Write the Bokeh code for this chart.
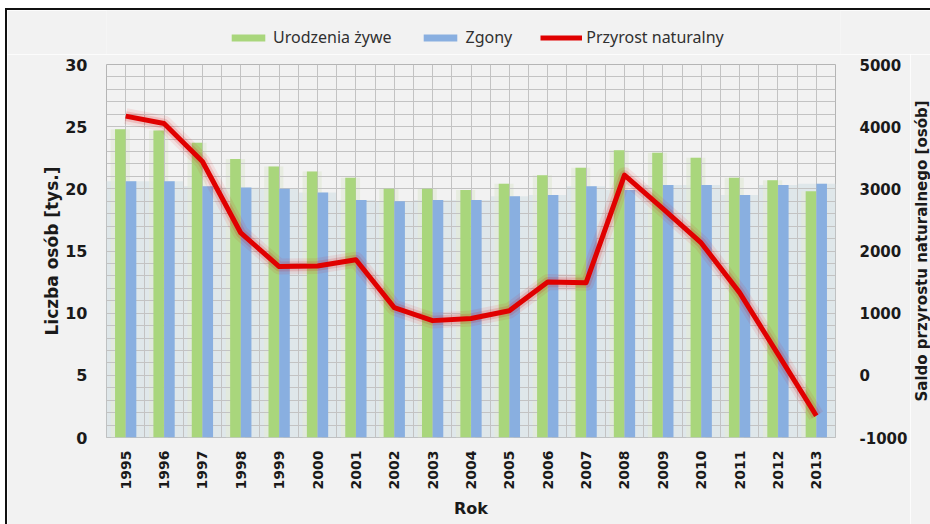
import math
from bokeh.plotting import figure
from bokeh.layouts import column, row
from bokeh.models import (Range1d, LinearAxis, FixedTicker, SingleIntervalTicker, Title,
                          Legend, LegendItem, ColumnDataSource, NumeralTickFormatter)
from bokeh.transform import dodge
from bokeh.embed import file_html
from bokeh.resources import INLINE

years = [1995, 1996, 1997, 1998, 1999, 2000, 2001, 2002, 2003, 2004,
         2005, 2006, 2007, 2008, 2009, 2010, 2011, 2012, 2013]
births = [24.8, 24.7, 23.7, 22.4, 21.8, 21.4, 20.9, 20.0, 20.0, 19.9,
          20.4, 21.1, 21.7, 23.1, 22.9, 22.5, 20.9, 20.7, 19.8]
deaths = [20.6, 20.6, 20.2, 20.1, 20.0, 19.7, 19.1, 19.0, 19.1, 19.1,
          19.4, 19.5, 20.2, 19.9, 20.3, 20.3, 19.5, 20.3, 20.4]
saldo = [4170, 4050, 3440, 2290, 1750, 1760, 1860, 1090, 880, 915,
         1040, 1500, 1490, 3220, 2680, 2130, 1330, 340, -650]

legend_labels = ["Urodzenia żywe", "Zgony", "Przyrost naturalny"]
left_ticks = [0, 5, 10, 15, 20, 25, 30]
right_ticks = [-1000, 0, 1000, 2000, 3000, 4000, 5000]
x_title = "Rok"
left_title = "Liczba osób [tys.]"
right_title = "Saldo przyrostu naturalnego [osób]"

src = ColumnDataSource(dict(year=years, births=births, deaths=deaths, saldo=saldo))

GREEN = "#a9d67c"
BLUE = "#89afe0"
RED = "#e00000"
BG = "#f2f2f2"
TXT = "#1a1a1a"

# ---------------- legend strip ----------------
lf = figure(width=923, height=44, output_backend="svg", toolbar_location=None,
            x_range=Range1d(0, 1), y_range=Range1d(0, 1),
            min_border_left=99, min_border_right=90, min_border_top=0, min_border_bottom=0,
            background_fill_color=BG, border_fill_color=BG, outline_line_color=None)
lf.axis.visible = False
lf.grid.visible = False
# hidden legend handles (only their legend swatches are drawn)
lg = lf.vbar(x="year", top="births", width=0.3, source=src, fill_color=GREEN,
             line_color=None, visible=False)
lb = lf.vbar(x="year", top="deaths", width=0.3, source=src, fill_color=BLUE,
             line_color=None, visible=False)
lr = lf.line(x="year", y="saldo", source=src, line_color=RED, line_width=5, visible=False)
legend = Legend(items=[LegendItem(label=legend_labels[0], renderers=[lg]),
                       LegendItem(label=legend_labels[1], renderers=[lb]),
                       LegendItem(label=legend_labels[2], renderers=[lr])],
                orientation="horizontal", location=(121, 6),
                glyph_width=42, glyph_height=9, label_standoff=4, spacing=28,
                label_height=20, inactive_fill_alpha=0,
                label_text_font="Noto Sans", label_text_font_size="16px",
                label_text_color="#303030", border_line_color=None,
                background_fill_alpha=0, padding=0, margin=0)
lf.add_layout(legend, "center")

# ---------------- main chart ----------------
p = figure(width=903, height=470, output_backend="svg", toolbar_location=None,
           x_range=Range1d(1994.5, 2013.5), y_range=Range1d(0, 30),
           min_border_left=99, min_border_right=70, min_border_top=10, min_border_bottom=87,
           background_fill_color=BG, border_fill_color=BG,
           outline_line_color="#b5b5b5")
p.extra_y_ranges = {"saldo": Range1d(-1000, 5000)}

# soft glow tint behind the bars
p.vbar(x="year", top="deaths", width=1.0, source=src, fill_color="#dfe7ea",
       line_color=None, level="image")
p.vbar(x=dodge("year", -0.14), top="births", width=0.5, source=src,
       fill_color="#e2ead9", fill_alpha=0.7, line_color=None, level="image")

p.vbar(x=dodge("year", -0.14), top="births", width=0.275, source=src,
       fill_color=GREEN, line_color=None)
p.vbar(x=dodge("year", 0.14), top="deaths", width=0.275, source=src,
       fill_color=BLUE, line_color=None)

# red line with glow
p.line(x="year", y="saldo", y_range_name="saldo", source=src,
       line_color=RED, line_width=16, line_alpha=0.08, line_join="round")
p.line(x="year", y="saldo", y_range_name="saldo", source=src,
       line_color=RED, line_width=10, line_alpha=0.15, line_join="round")
p.line(x="year", y="saldo", y_range_name="saldo", source=src,
       line_color=RED, line_width=5, line_join="round")

# grid
p.xgrid.ticker = FixedTicker(ticks=[1994.5 + 0.5 * i for i in range(39)])
p.ygrid.ticker = SingleIntervalTicker(interval=1)
for g in (p.xgrid, p.ygrid):
    g.grid_line_color = "#c3c3c3"
    g.grid_line_width = 1

# axes
xa = p.xaxis[0]
xa.ticker = FixedTicker(ticks=years)
xa.major_label_orientation = math.pi / 2
xa.axis_label = x_title

ya = p.yaxis[0]
ya.ticker = FixedTicker(ticks=left_ticks)
ya.axis_label = left_title

ra = LinearAxis(y_range_name="saldo", ticker=FixedTicker(ticks=right_ticks),
                formatter=NumeralTickFormatter(format="0"))
p.add_layout(ra, "right")

for ax in (xa, ya, ra):
    ax.axis_line_color = None
    ax.major_tick_line_color = None
    ax.minor_tick_line_color = None
    ax.major_label_text_font = "DejaVu Sans"
    ax.major_label_text_font_style = "bold"
    ax.major_label_text_color = TXT
    ax.axis_label_text_font = "DejaVu Sans"
    ax.axis_label_text_font_style = "bold"
    ax.axis_label_text_color = TXT

xa.major_label_text_font_size = "14px"
xa.major_label_standoff = 7
xa.axis_label_standoff = 7
xa.axis_label_text_font_size = "16px"
ya.major_label_text_font_size = "16px"
ya.major_label_standoff = 13
ya.axis_label_standoff = 0
ya.axis_label_text_font_size = "17px"
ra.major_label_text_font_size = "15px"
ra.major_label_standoff = 18

# ---------------- right-hand axis title (reads bottom to top) ----------------
rf = figure(width=20, height=470, output_backend="svg", toolbar_location=None,
            x_range=Range1d(0, 1), y_range=Range1d(0, 1),
            min_border_left=0, min_border_right=0, min_border_top=10, min_border_bottom=87,
            background_fill_color=BG, border_fill_color=BG, outline_line_color=None)
rf.axis.visible = False
rf.grid.visible = False
rf.add_layout(Title(text=right_title, align="center", text_font="DejaVu Sans",
                    text_font_style="bold", text_font_size="15px", text_color=TXT,
                    standoff=0, offset=0), "left")

layout = column(lf, row(p, rf, spacing=0), spacing=0)
layout.styles = {"margin-left": "5px", "margin-top": "8px",
                 "border-left": "2px solid #111111", "border-top": "2px solid #111111"}

open("out.html", "w").write(file_html(layout, INLINE))
